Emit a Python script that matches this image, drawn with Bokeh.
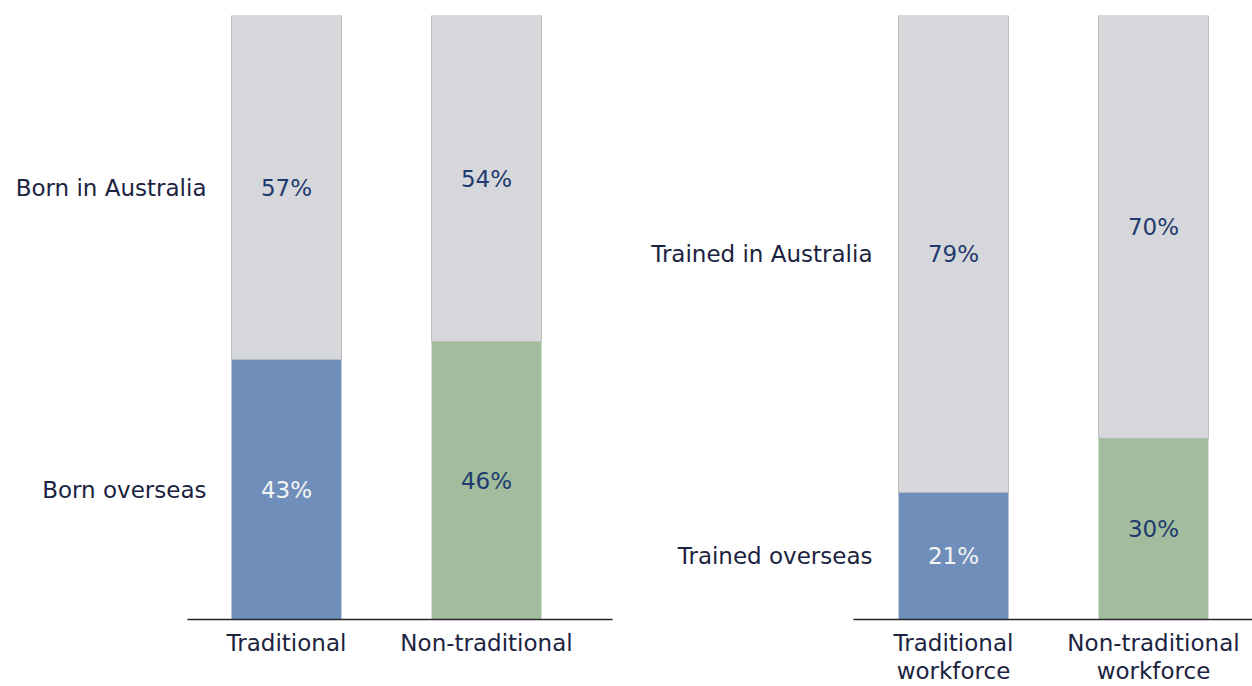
from bokeh.plotting import figure
from bokeh.layouts import row
from bokeh.models import FixedTicker, Range1d
from bokeh.embed import file_html
from bokeh.resources import INLINE

# ---- data ----
left_categories = ["Traditional", "Non-traditional"]
left_overseas = [43, 46]
left_australia = [57, 54]
left_rows = ["Born overseas", "Born in Australia"]

right_categories = ["Traditional\nworkforce", "Non-traditional\nworkforce"]
right_overseas = [21, 30]
right_australia = [79, 70]
right_rows = ["Trained overseas", "Trained in Australia"]

bar_colors = ["#6f8fba", "#a2bd9d"]
gray_color = "#d6d7da"
pct_colors = ["#f4f4f4", "#1f3a6e"]

FONT = "DejaVu Sans"
LABEL_COLOR = "#1c2340"
FS = "23px"


def make_panel(categories, overseas, australia, rows, x_start, width,
               border_left, border_right):
    frame_w = width - border_left - border_right
    x_end = x_start + frame_w / 200.0
    p = figure(width=width, height=686, output_backend="svg",
               toolbar_location=None,
               x_range=Range1d(x_start, x_end), y_range=Range1d(0, 1),
               min_border_left=border_left, min_border_right=border_right,
               min_border_top=15, min_border_bottom=67)
    idx = list(range(len(categories)))
    ov = [o / 100 for o in overseas]
    # Australia segment
    p.vbar(x=idx, bottom=ov, top=[(o + a) / 100 for o, a in zip(overseas, australia)],
           width=0.55, fill_color=gray_color, line_color="#bfbfbf", line_width=1)
    # overseas segment
    p.vbar(x=idx, bottom=0, top=ov, width=0.55, fill_color=bar_colors,
           line_color=None)
    # percentage labels
    p.text(x=idx, y=[o / 200 for o in overseas], text=[f"{o}%" for o in overseas],
           text_align="center", text_baseline="middle", text_color=pct_colors,
           text_font_size=FS, text_font={"value": FONT})
    p.text(x=idx, y=[(o + a / 2) / 100 for o, a in zip(overseas, australia)],
           text=[f"{a}%" for a in australia],
           text_align="center", text_baseline="middle", text_color=pct_colors[1],
           text_font_size=FS, text_font={"value": FONT})

    # x axis
    xa = p.xaxis[0]
    xa.ticker = FixedTicker(ticks=idx)
    xa.major_label_overrides = {i: c for i, c in zip(idx, categories)}
    xa.axis_line_color = "#262626"
    xa.axis_line_width = 1.6
    xa.major_tick_line_color = None
    xa.minor_tick_line_color = None
    xa.major_label_text_font = FONT
    xa.major_label_text_font_size = FS
    xa.major_label_text_color = LABEL_COLOR
    xa.major_label_text_line_height = 1.08
    xa.major_label_standoff = 4

    # y axis: row labels at the middle of the first bar's segments
    ya = p.yaxis[0]
    t0 = overseas[0] / 200
    t1 = (overseas[0] + australia[0] / 2) / 100
    ya.ticker = FixedTicker(ticks=[t0, t1])
    ya.major_label_overrides = {t0: rows[0], t1: rows[1]}
    ya.axis_line_color = None
    ya.major_tick_line_color = None
    ya.minor_tick_line_color = None
    ya.major_label_text_font = FONT
    ya.major_label_text_font_size = FS
    ya.major_label_text_color = LABEL_COLOR
    ya.major_label_standoff = -25

    p.xgrid.visible = False
    p.ygrid.visible = False
    p.outline_line_color = None
    p.background_fill_color = "white"
    p.border_fill_color = "white"
    return p


left = make_panel(left_categories, left_overseas, left_australia, left_rows,
                  x_start=-0.495, width=620, border_left=187, border_right=8)
right = make_panel(right_categories, right_overseas, right_australia, right_rows,
                   x_start=-0.5, width=632, border_left=233, border_right=0)

layout = row(left, right)
open("out.html", "w").write(file_html(layout, INLINE))
